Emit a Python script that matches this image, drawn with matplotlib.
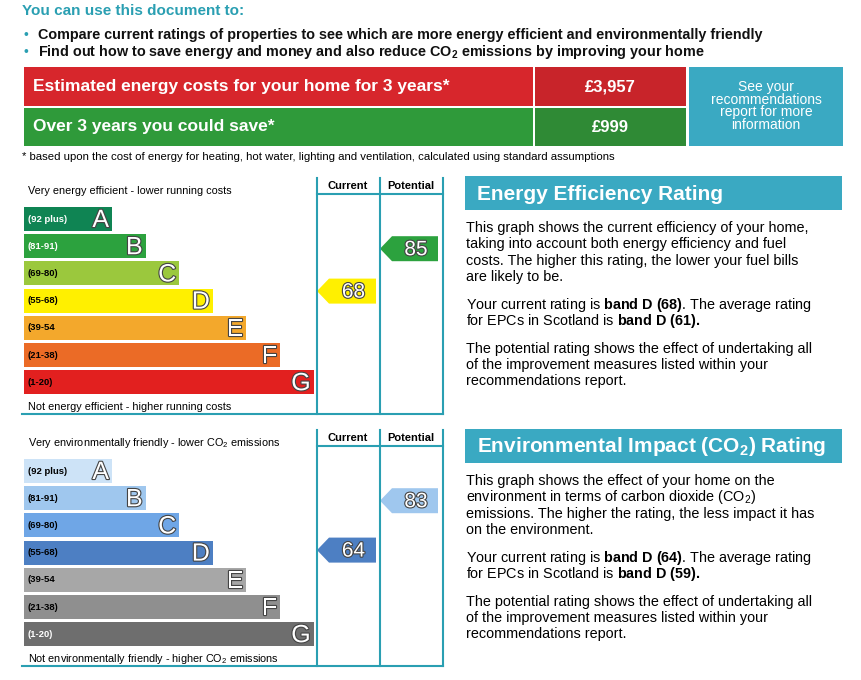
import matplotlib
matplotlib.use('Agg')
import matplotlib.pyplot as plt
import matplotlib.patches as mpatches
import matplotlib.patheffects as pe

plt.rcParams['font.family'] = ['Liberation Sans', 'DejaVu Sans']
plt.rcParams['mathtext.fontset'] = 'custom'
plt.rcParams['mathtext.rm'] = 'Liberation Sans'
plt.rcParams['mathtext.bf'] = 'Liberation Sans:bold'
plt.rcParams['mathtext.it'] = 'Liberation Sans:italic'

# ── DATA ───────────────────────────────────────
bands = ['A', 'B', 'C', 'D', 'E', 'F', 'G']
band_lows = [92, 81, 69, 55, 39, 21, 1]
ranges_eer = ['(92 plus)', '(81-91)', '(69-80)', '(55-68)', '(39-54', '(21-38)', '(1-20)']
colors_eer = ['#0f8453', '#2ca23e', '#9bc83d', '#fff000', '#f3a82c', '#eb6b26', '#e2201f']
colors_eir = ['#cde3f7', '#9fc7ee', '#6fa6e6', '#4d7fc3', '#a7a7a7', '#8f8f8f', '#6e6e6e']
eer_current, eer_potential = 68, 85
eir_current, eir_potential = 64, 83
cost_3yr = '£3,957'
saving_3yr = '£999'

TEAL = '#2a9fb2'
BOX = '#3aa9c2'

fig = plt.figure(figsize=(8.62, 6.8), dpi=100)
ax = fig.add_axes([0, 0, 1, 1])
ax.set_xlim(0, 862)
ax.set_ylim(680, 0)
ax.axis('off')

def rect(x, y, w, h, c, **kw):
    ax.add_patch(mpatches.Rectangle((x, y), w, h, facecolor=c, edgecolor='none', **kw))

# ── HEADER ─────────────────────────────────────
ax.text(22, 11, 'You can use this document to:', color=TEAL, fontsize=11,
        fontweight='bold', va='center')
for y, s in [(35, 'Compare current ratings of properties to see which are more energy efficient and environmentally friendly'),
             (52, 'Find out how to save energy and money and also reduce CO$_\\mathbf{2}$ emissions by improving your home')]:
    ax.text(24, y, '•', color=TEAL, fontsize=10, va='center')
    ax.text(38, y, s, fontsize=10.4, fontweight='bold', va='center', color='#111111')

rect(24, 67, 509, 39, '#d7262c')
rect(535, 67, 151, 39, '#c8242a')
rect(24, 108, 509, 38, '#2f9a3a')
rect(535, 108, 151, 38, '#2f8a35')
rect(689, 67, 154, 79, BOX)
ax.text(33, 87, 'Estimated energy costs for your home for 3 years*', color='white',
        fontsize=12.5, fontweight='bold', va='center')
ax.text(33, 127, 'Over 3 years you could save*', color='white',
        fontsize=12.5, fontweight='bold', va='center')
ax.text(610, 87, cost_3yr, color='white', fontsize=12, fontweight='bold', va='center', ha='center')
ax.text(610, 127, saving_3yr, color='white', fontsize=12, fontweight='bold', va='center', ha='center')
ax.text(766, 106, 'See your\nrecommendations\nreport for more\ninformation', color='white',
        fontsize=10, ha='center', va='center', linespacing=0.9)
ax.text(22, 157, '* based upon the cost of energy for heating, hot water, lighting and ventilation, calculated using standard assumptions',
        fontsize=8.2, va='center')

# ── RATING CHARTS ──────────────────────────────
outline = [pe.withStroke(linewidth=1.6, foreground='#444444')]

def draw_chart(y0, colors, top_txt, bot_txt, cur, pot, label_colors):
    ax.plot([22, 443], [y0 + 236, y0 + 236], color=TEAL, lw=1.5)
    for x in (317, 380, 443):
        ax.plot([x, x], [y0, y0 + 236], color=TEAL, lw=1.5)
    ax.plot([317, 443], [y0 + 16, y0 + 16], color=TEAL, lw=1.5)
    ax.text(348, y0 + 8, 'Current', fontsize=8, fontweight='bold', ha='center', va='center')
    ax.text(411, y0 + 8, 'Potential', fontsize=8, fontweight='bold', ha='center', va='center')
    ax.text(28, y0 + 13, top_txt, fontsize=7.8, va='center')
    ax.text(28, y0 + 229, bot_txt, fontsize=7.8, va='center')
    rows = []
    for i, (b, r, c) in enumerate(zip(bands, ranges_eer, colors)):
        top = y0 + 29 + i * 27.2
        w = 88 + 33.6 * i
        rect(24, top, w, 24, c)
        ax.text(28, top + 12, r, fontsize=6.8, fontweight='bold', va='center',
                color=label_colors[i])
        ax.text(24 + w - 3, top + 13, b, fontsize=18, color='white', ha='right',
                va='center', path_effects=outline)
        rows.append(top)

    for v, x0, x1 in [(cur, 317, 376), (pot, 380, 438)]:
        i = next(k for k, lo in enumerate(band_lows) if v >= lo)
        if i == 3:
            top = rows[i] - (10 if v >= 66 else 3)
        else:
            top = rows[i] + 2
        h = 25
        poly = [(x0, top + h / 2), (x0 + 12, top), (x1, top), (x1, top + h), (x0 + 12, top + h)]
        ax.add_patch(mpatches.Polygon(poly, closed=True, facecolor=colors[i], edgecolor='none'))
        ax.text((x0 + 12 + x1) / 2 + 1, top + h / 2 + 1, str(v), fontsize=15, color='white',
                ha='center', va='center', path_effects=outline)

draw_chart(178, colors_eer, 'Very energy efficient - lower running costs',
           'Not energy efficient - higher running costs', eer_current, eer_potential,
           ['white', 'white', 'black', 'black', 'black', 'black', 'black'])
draw_chart(430, colors_eir, 'Very environmentally friendly - lower CO$_2$ emissions',
           'Not environmentally friendly - higher CO$_2$ emissions', eir_current, eir_potential,
           ['black', 'black', 'black', 'black', 'black', 'black', 'white'])

# ── RIGHT TEXT PANELS ──────────────────────────
def panel(y0, title, paras):
    rect(465, y0, 377, 34, BOX)
    ax.text(477, y0 + 18, title, color='white', fontsize=15, fontweight='bold', va='center')
    y = y0 + 52
    for p in paras:
        for line in p:
            ax.text(466, y, line, fontsize=10.4, va='center')
            y += 16.3
        y += 11.5

panel(176, 'Energy Efficiency Rating', [
    ['This graph shows the current efficiency of your home,', 'taking into account both energy efficiency and fuel',
     'costs. The higher this rating, the lower your fuel bills', 'are likely to be.'],
    ['Your current rating is $\\mathbf{band\\ D\\ (68)}$. The average rating',
     'for EPCs in Scotland is $\\mathbf{band\\ D\\ (61).}$'],
    ['The potential rating shows the effect of undertaking all', 'of the improvement measures listed within your',
     'recommendations report.']])
panel(429, 'Environmental Impact (CO$_\\mathbf{2}$) Rating', [
    ['This graph shows the effect of your home on the', 'environment in terms of carbon dioxide (CO$_2$)',
     'emissions. The higher the rating, the less impact it has', 'on the environment.'],
    ['Your current rating is $\\mathbf{band\\ D\\ (64)}$. The average rating',
     'for EPCs in Scotland is $\\mathbf{band\\ D\\ (59).}$'],
    ['The potential rating shows the effect of undertaking all', 'of the improvement measures listed within your',
     'recommendations report.']])

fig.savefig('out.png', dpi=100)
